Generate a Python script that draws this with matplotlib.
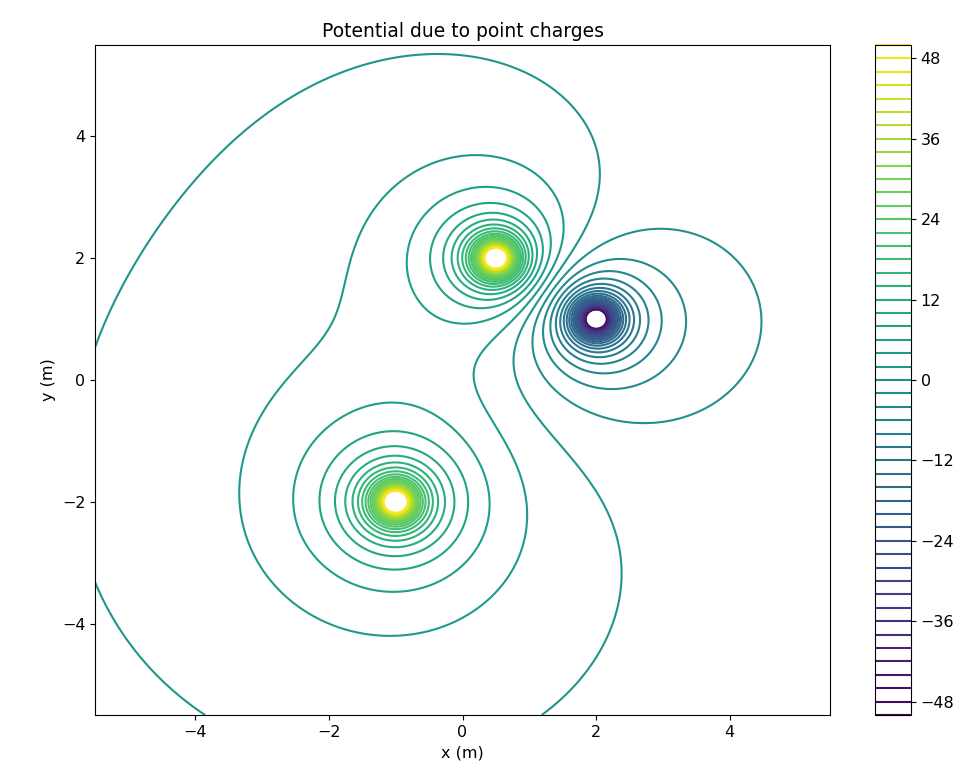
import numpy as np
import matplotlib
matplotlib.use('Agg')
import matplotlib.pyplot as plt

plt.rcParams['font.size'] = 11.5

# point charges (m, C)
k = 8.99e9
charge_x = [0.5, 2.0, -1.0]
charge_y = [2.0, 1.0, -2.0]
charge_q = [1e-9, -1e-9, 1e-9]

levels = np.arange(-50, 51, 2)
cbar_ticks = [-48, -36, -24, -12, 0, 12, 24, 36, 48]

x = np.linspace(-5.5, 5.5, 700)
y = np.linspace(-5.5, 5.5, 700)
X, Y = np.meshgrid(x, y)

V = np.zeros_like(X)
for cx, cy, q in zip(charge_x, charge_y, charge_q):
    r = np.sqrt((X - cx)**2 + (Y - cy)**2)
    V += k * q / r

fig = plt.figure(figsize=(9.76, 7.79), dpi=100)
ax = fig.add_axes([95/976, 1 - 715/779, 735/976, 670/779])
cax = fig.add_axes([875/976, 1 - 715/779, 36/976, 670/779])

cs = ax.contour(X, Y, V, levels=levels, cmap='viridis')
cb = fig.colorbar(cs, cax=cax, ticks=cbar_ticks)

ax.set_xticks([-4, -2, 0, 2, 4])
ax.set_yticks([-4, -2, 0, 2, 4])
ax.set_xlabel("x (m)")
ax.set_ylabel("y (m)")
ax.set_title("Potential due to point charges", fontsize=13.5)

fig.savefig('out.png', dpi=100)
